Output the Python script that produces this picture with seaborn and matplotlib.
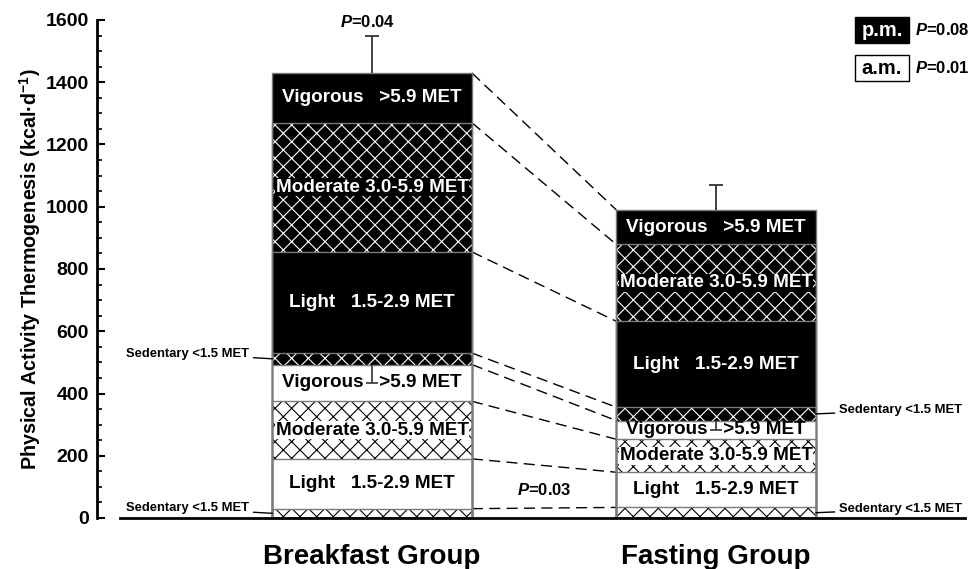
import numpy as np
import pandas as pd
import matplotlib
matplotlib.use("Agg")
import matplotlib.pyplot as plt
from matplotlib.patches import Rectangle
from matplotlib.ticker import MultipleLocator
import seaborn as sns

# ---------------- data ----------------
groups = ["Breakfast Group", "Fasting Group"]
segments = ["a.m. Sedentary", "a.m. Light", "a.m. Moderate", "a.m. Vigorous",
            "p.m. Sedentary", "p.m. Light", "p.m. Moderate", "p.m. Vigorous"]
segment_text = ["Sedentary <1.5 MET", "Light   1.5-2.9 MET", "Moderate 3.0-5.9 MET",
                "Vigorous   >5.9 MET",
                "Sedentary <1.5 MET", "Light   1.5-2.9 MET", "Moderate 3.0-5.9 MET",
                "Vigorous   >5.9 MET"]
breakfast_kcal = [30, 160, 185, 118, 37, 325, 415, 160]
fasting_kcal = [34, 113, 106, 60, 43, 276, 247, 111]
total_err = [120, 80]        # upward error on daily total
am_err = [60, 30]            # downward error on a.m. total
p_total = "0.04"
p_am_compare = "0.03"
legend_p = {"p.m.": "0.08", "a.m.": "0.01"}

# ---------------- style ----------------
sns.set_theme(style="ticks")
plt.rcParams["font.family"] = ["Liberation Sans", "DejaVu Sans"]
plt.rcParams["font.weight"] = "bold"
plt.rcParams["text.color"] = "black"
plt.rcParams["axes.labelcolor"] = "black"
plt.rcParams["xtick.color"] = "black"
plt.rcParams["ytick.color"] = "black"
plt.rcParams["axes.edgecolor"] = "black"
plt.rcParams["mathtext.fontset"] = "custom"
plt.rcParams["mathtext.rm"] = "Liberation Sans:bold"
plt.rcParams["mathtext.bf"] = "Liberation Sans:bold"
plt.rcParams["mathtext.it"] = "Liberation Sans:italic:bold"
plt.rcParams["hatch.linewidth"] = 0.8

face = ["white", "white", "white", "white", "black", "black", "black", "black"]
hatchc = ["black", "black", "black", "black", "white", "white", "white", "white"]
hatch = ["xx", None, "xx", None, "xx", None, "xx", None]
txtc = ["black"] * 4 + ["white"] * 4

W, H = 968, 569
fig = plt.figure(figsize=(W / 100, H / 100), dpi=100)
ax = fig.add_axes([97 / W, 1 - 518 / H, 868 / W, 498 / H])

cum_b = np.cumsum(breakfast_kcal)
cum_f = np.cumsum(fasting_kcal)
df = pd.DataFrame({
    "group": np.repeat(groups, len(segments)),
    "segment": segments * 2,
    "kcal": breakfast_kcal + fasting_kcal,
    "top": np.concatenate([cum_b, cum_f]),
})
df["bottom"] = df["top"] - df["kcal"]

width = 0.58
# filled layers, drawn from the top segment down
for i in reversed(range(len(segments))):
    sub = df[df["segment"] == segments[i]]
    n0 = len(ax.patches)
    sns.barplot(data=sub, x="group", y="top", order=groups, width=width,
                color=face[i], saturation=1, errorbar=None, ax=ax, zorder=2)
    for p in ax.patches[n0:]:
        p.set_facecolor(face[i])
        p.set_edgecolor(hatchc[i])
        p.set_hatch(hatch[i])
        p.set_linewidth(0)
# outlines
for i in reversed(range(len(segments))):
    sub = df[df["segment"] == segments[i]]
    n0 = len(ax.patches)
    sns.barplot(data=sub, x="group", y="top", order=groups, width=width,
                color="white", saturation=1, errorbar=None, ax=ax, zorder=3)
    for p in ax.patches[n0:]:
        p.set_facecolor("none")
        p.set_edgecolor("#7a7a7a")
        p.set_hatch(None)
        p.set_linewidth(1.0)

# dashed connectors between matching boundaries
for k in range(len(segments)):
    ax.plot([0 + width / 2, 1 - width / 2], [cum_b[k], cum_f[k]],
            color="black", lw=1.0, ls=(0, (8, 4.5)), zorder=1)

# error bars
eb = ax.errorbar([0, 1], [cum_b[-1], cum_f[-1]], yerr=[[0, 0], total_err],
                 fmt="none", ecolor="#333333", elinewidth=1.3, capsize=5,
                 capthick=1.3, zorder=5)
eb[1][0].set_visible(False)
eb2 = ax.errorbar([0, 1], [cum_b[3], cum_f[3]], yerr=[am_err, [0, 0]],
                  fmt="none", ecolor="#333333", elinewidth=1.2, capsize=4,
                  capthick=1.2, zorder=5)
eb2[1][1].set_visible(False)

# segment labels
for gi, vals in enumerate([breakfast_kcal, fasting_kcal]):
    cum = np.cumsum(vals)
    for i in range(len(segments)):
        if i in (0, 4):
            continue
        mid = cum[i] - vals[i] / 2
        kw = {}
        if hatch[i]:
            kw["bbox"] = dict(boxstyle="square,pad=0.03", fc=face[i], ec="none")
        ax.text(gi, mid, segment_text[i], ha="center", va="center",
                color=txtc[i], fontsize=13.6, fontweight="bold", zorder=6, **kw)

# sedentary call-outs
for i in (0, 4):
    mid_b = cum_b[i] - breakfast_kcal[i] / 2
    ax.annotate(segment_text[i], xy=(0 - width / 2, mid_b), xytext=(-17, 3.5),
                textcoords="offset points", ha="right", va="center",
                fontsize=9.4, fontweight="bold",
                arrowprops=dict(arrowstyle="-", color="black", lw=1,
                                shrinkA=1, shrinkB=0))
    mid_f = cum_f[i] - fasting_kcal[i] / 2
    ax.annotate(segment_text[i], xy=(1 + width / 2, mid_f), xytext=(17, 2.5),
                textcoords="offset points", ha="left", va="center",
                fontsize=9.4, fontweight="bold",
                arrowprops=dict(arrowstyle="-", color="black", lw=1,
                                shrinkA=1, shrinkB=0))

# P values
ax.annotate(f"$P$={p_total}", xy=(0, cum_b[-1] + total_err[0]), xytext=(-3, 4),
            textcoords="offset points", ha="center", va="bottom",
            fontsize=12, fontweight="bold", annotation_clip=False)
ax.text(0.5, 90, f"$P$={p_am_compare}", ha="center", va="center",
        fontsize=12, fontweight="bold")

# legend boxes
def fx(x):
    return x / W

def fy(y):
    return 1 - y / H

for (lab, pv), yc, fc, tc in zip(legend_p.items(), [30, 68], ["black", "white"],
                                 ["white", "black"]):
    fig.patches.append(Rectangle((fx(855), fy(yc + 13)), 54 / W, 26 / H,
                                 transform=fig.transFigure, fc=fc, ec="black",
                                 lw=1, zorder=5))
    fig.text(fx(882), fy(yc), lab, ha="center", va="center", color=tc,
             fontsize=14.5, fontweight="bold", zorder=6)
    fig.text(fx(915), fy(yc), f"$P$={pv}", ha="left", va="center",
             fontsize=12, fontweight="bold")

# axes styling
ax.set_xlim(-0.80, 1.724)
ax.set_ylim(0, 1600)
ax.yaxis.set_major_locator(MultipleLocator(200))
ax.yaxis.set_minor_locator(MultipleLocator(50))
ax.tick_params(axis="y", which="major", direction="in", length=6, width=1.5,
               labelsize=14, pad=6)
ax.tick_params(axis="y", which="minor", direction="in", length=3.5, width=1.2)
ax.tick_params(axis="x", length=0, pad=19, labelsize=20)
for lab in ax.get_xticklabels() + ax.get_yticklabels():
    lab.set_fontweight("bold")
ax.set_xlabel("")
ax.set_ylabel("Physical Activity Thermogenesis (kcal·d$^{-1}$)", fontsize=14.2,
              fontweight="bold", labelpad=1.5)
sns.despine(ax=ax, top=True, right=True)
ax.spines["left"].set_linewidth(2)
ax.spines["bottom"].set_linewidth(2)
ax.spines["bottom"].set_bounds(-0.733, 1.724)
ax.spines["left"].set_zorder(7)
ax.spines["bottom"].set_zorder(7)
ax.set_facecolor("white")

fig.savefig("out.png", dpi=100, facecolor="white")
